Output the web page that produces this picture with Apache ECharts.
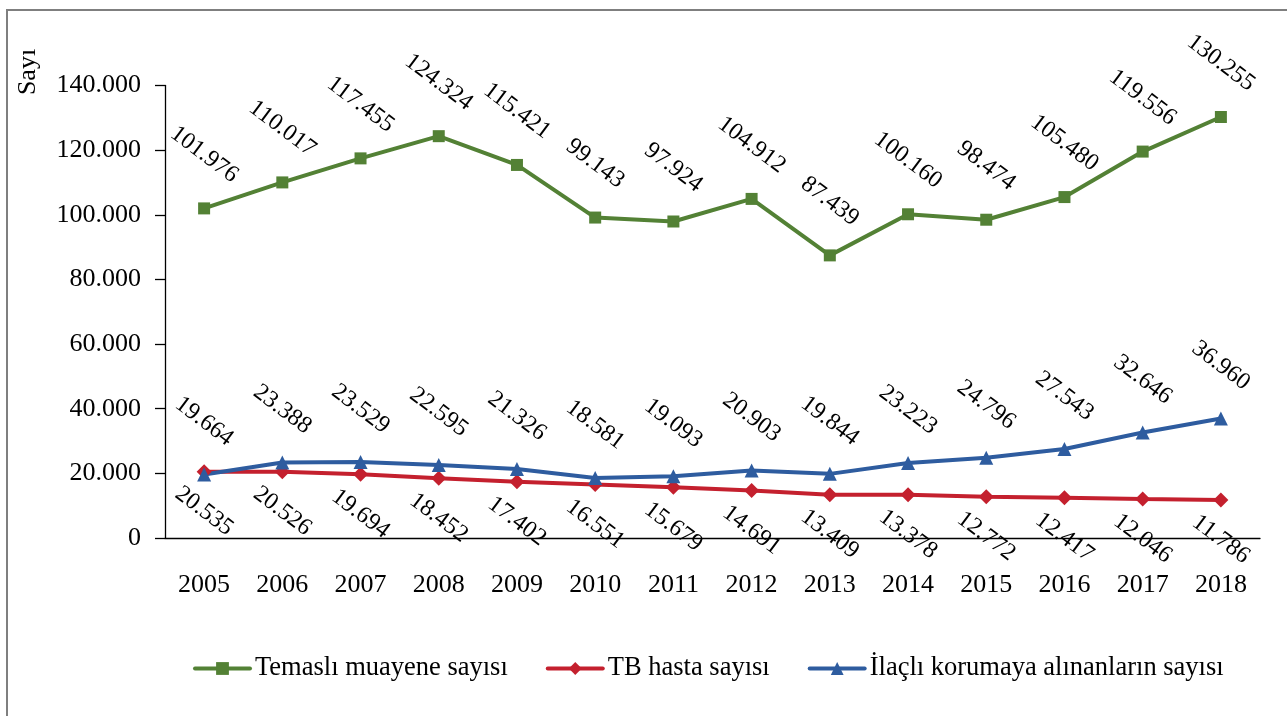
<!DOCTYPE html>
<html>
<head>
<meta charset="utf-8">
<script src="https://cdn.jsdelivr.net/npm/echarts@6/dist/echarts.min.js"></script>
<style>
  html, body { margin: 0; padding: 0; background: #fff; }
  #chart { width: 1287px; height: 716px; }
</style>
</head>
<body>
<div id="chart"></div>
<script>
// veriler
const years = ['2005', '2006', '2007', '2008', '2009', '2010', '2011', '2012', '2013', '2014', '2015', '2016', '2017', '2018']
const temasli = [101976, 110017, 117455, 124324, 115421, 99143, 97924, 104912, 87439, 100160, 98474, 105480, 119556, 130255]
const tbHasta = [20535, 20526, 19694, 18452, 17402, 16551, 15679, 14691, 13409, 13378, 12772, 12417, 12046, 11786]
const ilacli = [19664, 23388, 23529, 22595, 21326, 18581, 19093, 20903, 19844, 23223, 24796, 27543, 32646, 36960]
const seriesNames = ['Temaslı muayene sayısı', 'TB hasta sayısı', 'İlaçlı korumaya alınanların sayısı']

const font = 'Liberation Serif, Times New Roman, serif'
const fmt = v => String(v).replace(/\B(?=(\d{3})+(?!\d))/g, '.')

function makeSeries(name, data, color, symbol, size, pos, dist) {
  return {
    name: name,
    type: 'line',
    data: data,
    symbol: symbol,
    symbolSize: size,
    lineStyle: { color: color, width: 4 },
    itemStyle: { color: color },
    label: {
      show: true,
      position: pos,
      distance: dist,
      rotate: -37,
      align: 'center',
      verticalAlign: 'middle',
      fontFamily: font,
      fontSize: 24,
      color: '#000',
      formatter: p => fmt(p.value)
    }
  }
}

const chart = echarts.init(document.getElementById('chart'))
chart.setOption({
  animation: false,
  backgroundColor: '#fff',
  graphic: [
    {
      type: 'rect',
      shape: { x: 7, y: 10, width: 1300, height: 730 },
      style: { fill: 'none', stroke: '#7f7f7f', lineWidth: 2 },
      silent: true
    },
    {
      type: 'text',
      x: 28, y: 72,
      rotation: Math.PI / 2,
      style: { text: 'Sayı', align: 'center', verticalAlign: 'middle', font: '26px ' + font, fill: '#000' }
    }
  ],
  grid: { left: 165, right: 27, top: 85.5, bottom: 178 },
  legend: {
    left: 193,
    top: 655,
    padding: 0,
    itemWidth: 55,
    itemHeight: 16,
    itemGap: 38,
    lineStyle: { width: 4, cap: 'round' },
    textStyle: { fontFamily: font, fontSize: 26.5, color: '#000' },
    data: seriesNames
  },
  xAxis: {
    type: 'category',
    data: years,
    boundaryGap: true,
    axisLine: { lineStyle: { color: '#000', width: 1.3 } },
    axisTick: { length: 10, interval: 0, lineStyle: { color: '#000', width: 1.3 } },
    axisLabel: { margin: 34, fontFamily: font, fontSize: 26, color: '#000', interval: 0 }
  },
  yAxis: {
    type: 'value',
    min: 0,
    max: 140000,
    interval: 20000,
    splitLine: { show: false },
    axisLine: { show: true, lineStyle: { color: '#000', width: 1.3 } },
    axisTick: { show: true, length: 10, lineStyle: { color: '#000', width: 1.3 } },
    axisLabel: { margin: 24, fontFamily: font, fontSize: 26, color: '#000', formatter: fmt }
  },
  series: [
    makeSeries(seriesNames[0], temasli, '#538135', 'rect', 12, 'top', 48),
    makeSeries(seriesNames[1], tbHasta, '#C4202E', 'diamond', 15, 'bottom', 32),
    makeSeries(seriesNames[2], ilacli, '#2E5C9F', 'triangle', 14, 'top', 46)
  ]
})
</script>
</body>
</html>
